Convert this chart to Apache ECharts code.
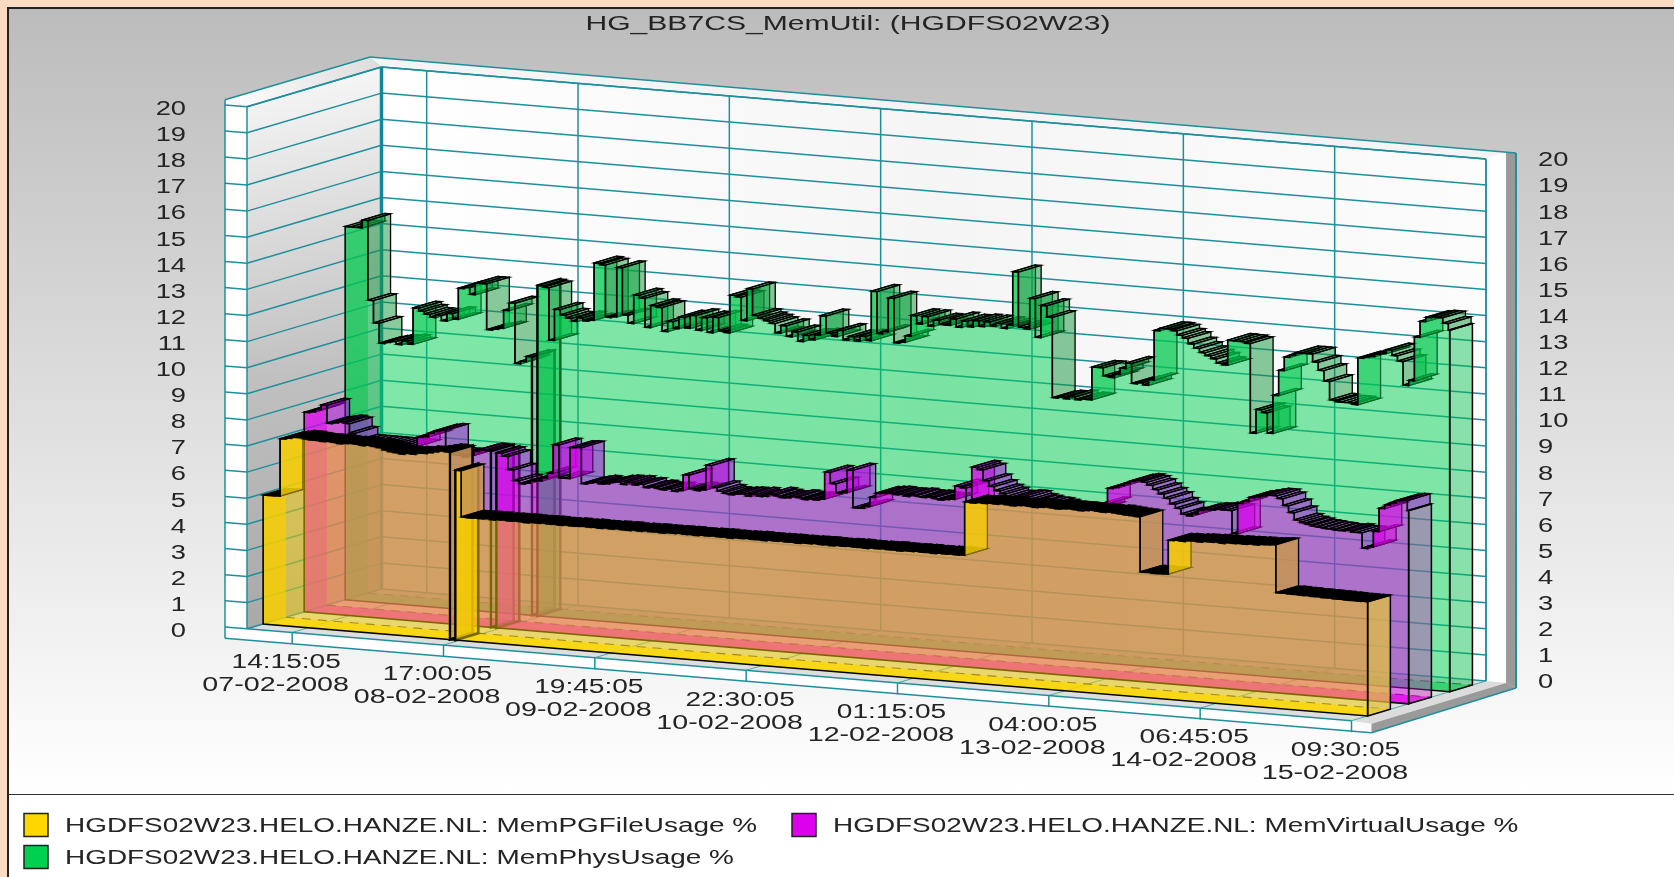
<!DOCTYPE html>
<html>
<head>
<meta charset="utf-8">
<title>HG_BB7CS_MemUtil</title>
<script src="https://cdn.jsdelivr.net/npm/echarts@6/dist/echarts.min.js"></script>
<style>
html, body { margin: 0; padding: 0; background: #fbdcc2; overflow: hidden; }
#panel {
  position: absolute; left: 7px; top: 7px; width: 1667px; height: 785px;
  border-left: 2px solid #222; border-top: 2px solid #222; border-bottom: 2px solid #333;
  background: linear-gradient(#bcbcbc, #ffffff);
}
#legendbox { position: absolute; left: 7px; top: 795px; width: 1667px; height: 82px; border-left: 2px solid #222; background: #fff; }
#main { position: absolute; left: 0; top: 0; width: 1674px; height: 877px; }
</style>
</head>
<body>
<div id="panel"></div>
<div id="legendbox"></div>
<div id="main"></div>
<script>
var chartTitle = 'HG_BB7CS_MemUtil: (HGDFS02W23)';
var legendNames = [
  'HGDFS02W23.HELO.HANZE.NL: MemPGFileUsage %',
  'HGDFS02W23.HELO.HANZE.NL: MemVirtualUsage %',
  'HGDFS02W23.HELO.HANZE.NL: MemPhysUsage %'
];
var yTicks = [0, 1, 2, 3, 4, 5, 6, 7, 8, 9, 10, 11, 12, 13, 14, 15, 16, 17, 18, 19, 20];
var xTickTimes = ['2008-02-07T14:15:05Z', '2008-02-08T17:00:05Z', '2008-02-09T19:45:05Z', '2008-02-10T22:30:05Z',
  '2008-02-12T01:15:05Z', '2008-02-13T04:00:05Z', '2008-02-14T06:45:05Z', '2008-02-15T09:30:05Z'];
var xTickHours = ['14:15:05', '17:00:05', '19:45:05', '22:30:05', '01:15:05', '04:00:05', '06:45:05', '09:30:05'];
var xTickDays = ['07-02-2008', '08-02-2008', '09-02-2008', '10-02-2008', '12-02-2008', '13-02-2008', '14-02-2008', '15-02-2008'];

// one sample per hour from the left end of the axis
var firstSample = '2008-02-07T06:16:00Z';

var pgFileUsage = [
  4.94, 4.94, 4.95, 7.15, 7.2, 7.25, 7.25, 7.22, 7.2, 7.2,
  7.18, 7.2, 7.18, 7.15, 7.18, 7.2, 7.18, 7.15, 7.18, 7.15,
  7.12, 7.05, 7.0, 6.98, 6.95, 7.0, 6.98, 7.05, 7.05, 7.1,
  7.15, 7.2, 7.18, 0, 6.5, 4.73, 4.72, 4.74, 4.73, 4.75,
  4.72, 4.74, 4.75, 4.73, 4.75, 4.74, 4.72, 4.75, 4.74, 4.76,
  4.74, 4.75, 4.73, 4.76, 4.74, 4.75, 4.77, 4.75, 4.76, 4.74,
  4.77, 4.75, 4.78, 4.76, 4.75, 4.78, 4.76, 4.79, 4.77, 4.78,
  4.76, 4.79, 4.78, 4.8, 4.78, 4.79, 4.77, 4.8, 4.79, 4.81,
  4.79, 4.8, 4.78, 4.81, 4.8, 4.82, 4.8, 4.81, 4.79, 4.82,
  4.81, 4.83, 4.81, 4.82, 4.8, 4.83, 4.82, 4.84, 4.82, 4.83,
  4.81, 4.84, 4.83, 4.85, 4.83, 4.84, 4.82, 4.85, 4.84, 4.86,
  4.84, 4.85, 4.83, 4.86, 4.85, 4.87, 4.85, 4.86, 4.84, 4.87,
  4.86, 4.88, 4.86, 4.87, 6.92, 6.9, 6.94, 6.92, 6.95, 6.93,
  6.96, 6.94, 6.92, 6.95, 6.97, 6.95, 6.93, 6.96, 6.98, 6.96,
  6.94, 6.97, 6.99, 6.97, 6.95, 6.98, 7.0, 6.98, 6.96, 6.99,
  6.97, 6.95, 6.93, 6.92, 6.9, 4.79, 4.8, 4.78, 4.79, 4.8,
  6.1, 6.12, 6.1, 6.14, 6.15, 6.13, 6.17, 6.16, 6.18, 6.15,
  6.19, 6.18, 6.2, 6.19, 6.22, 6.2, 6.23, 6.24, 6.26, 4.43,
  4.44, 4.42, 4.43, 4.41, 4.42, 4.4, 4.41, 4.39, 4.4, 4.38,
  4.39, 4.37, 4.38, 4.37, 4.38, 4.37
];
var virtualUsage = [
  7.65, 7.7, 7.8, 7.98, 7.3, 7.35, 7.4, 7.35, 7.0, 6.7,
  6.7, 6.7, 6.7, 6.7, 6.7, 6.7, 6.7, 6.7, 6.7, 6.7,
  7.06, 7.1, 7.25, 7.35, 7.4, 6.57, 6.5, 6.5, 6.45, 6.55,
  6.7, 6.77, 6.75, 0, 6.7, 6.6, 6.1, 5.7, 5.6, 5.65,
  5.75, 5.77, 5.9, 6.1, 7.2, 5.95, 5.95, 7.15, 7.17, 5.8,
  5.85, 5.9, 5.85, 5.88, 5.95, 5.98, 5.9, 6.0, 5.92, 5.96,
  5.85, 5.9, 5.85, 5.82, 5.88, 5.8, 5.85, 6.46, 5.95, 5.9,
  5.95, 6.9, 6.07, 5.95, 5.88, 5.85, 5.9, 5.92, 5.85, 5.95,
  5.88, 5.9, 6.0, 5.95, 5.9, 5.92, 5.98, 5.95, 5.9, 5.95,
  5.92, 5.98, 7.02, 6.6, 6.25, 6.3, 7.17, 5.74, 5.75, 5.85,
  6.2, 6.37, 6.4, 6.42, 6.38, 6.4, 6.35, 6.42, 6.38, 6.36,
  6.4, 6.35, 6.32, 6.36, 6.38, 6.9, 6.85, 6.3, 7.68, 7.6,
  7.2, 7.0, 6.85, 6.75, 6.65, 6.65, 6.7, 6.7, 6.6, 6.55,
  6.5, 6.5, 6.45, 6.4, 6.4, 6.4, 6.4, 6.4, 6.45, 6.45,
  6.5, 6.7, 7.3, 7.36, 7.45, 7.55, 7.65, 7.7, 7.65, 7.55,
  7.4, 7.25, 7.1, 6.9, 6.75, 6.55, 6.5, 6.6, 6.75, 6.8,
  6.8, 6.85, 6.84, 6.84, 5.97, 7.14, 7.25, 7.4, 7.45, 7.5,
  7.55, 7.55, 7.45, 7.2, 6.95, 6.68, 6.6, 6.55, 6.5, 6.48,
  6.45, 6.45, 6.42, 6.42, 6.45, 6.4, 6.4, 5.82, 5.9, 6.5,
  7.4, 7.55, 7.65, 7.75, 7.78, 7.4
];
var physUsage = [
  14.3, 14.3, 14.3, 14.6, 11.55, 10.7, 9.94, 10.0, 10.05, 9.95,
  10.1, 10.0, 11.4, 11.3, 11.2, 11.1, 11.2, 11.0, 11.3, 11.1,
  12.3, 12.35, 12.1, 12.55, 12.55, 10.8, 10.85, 10.9, 11.6, 11.9,
  9.6, 9.7, 9.9, 0, 12.65, 12.6, 10.6, 11.8, 11.6, 11.5,
  11.4, 11.55, 11.45, 11.5, 13.7, 13.65, 11.66, 11.7, 13.6, 11.8,
  11.5, 12.6, 12.5, 11.4, 12.25, 12.2, 11.3, 11.7, 11.45, 11.9,
  11.5, 12.0, 11.45, 11.95, 11.4, 12.0, 11.5, 11.45, 12.9, 12.85,
  11.97, 13.2, 12.2, 12.1, 12.03, 11.95, 11.6, 11.9, 11.5, 11.7,
  11.35, 11.6, 11.45, 11.65, 12.4, 11.75, 11.65, 11.9, 11.55, 11.7,
  11.55, 11.75, 11.6, 13.5, 11.9, 12.0, 13.3, 11.6, 11.65, 11.9,
  12.7, 12.4, 12.7, 12.35, 12.6, 12.45, 12.44, 12.7, 12.4, 12.65,
  12.45, 12.7, 12.5, 12.7, 12.55, 12.67, 12.5, 12.65, 14.7, 12.6,
  12.55, 13.74, 12.26, 13.5, 13.07, 10.0, 10.05, 10.0, 10.1, 10.0,
  10.05, 10.04, 11.3, 11.3, 11.0, 10.96, 11.1, 11.35, 11.56, 10.8,
  10.85, 10.78, 11.0, 12.9, 13.0, 13.0, 12.95, 12.8, 12.7, 12.5,
  12.35, 12.2, 12.1, 12.0, 11.85, 11.8, 12.76, 12.75, 12.75, 12.7,
  9.28, 10.2, 10.1, 9.33, 10.8, 11.77, 12.3, 12.4, 12.5, 12.5,
  12.5, 12.2, 11.9, 11.5, 10.8, 10.75, 10.75, 10.75, 10.7, 12.5,
  12.55, 12.6, 12.7, 12.75, 12.9, 12.7, 12.5, 11.6, 11.8, 13.48,
  14.1, 14.27, 14.3, 14.3, 14.1, 13.85
];

var fontName = '"Liberation Sans", Arial, sans-serif';
var textColor = '#242424';
var gridColor = '#1f8f9b';
var plotLeft = 247, plotTop = 106.7, plotWidth = 1104.5, plotHeight = 522;
var slope = 0.0833, depthX = 134.5, depthY = 39.7;

var startMs = Date.parse(firstSample);
var tickMs = xTickTimes.map(function (s) { return Date.parse(s); });
var tMin = startMs, tMax = tickMs[tickMs.length - 1];

function sampleTime(i) {
  return Math.min(startMs + i * 3600000, tMax);
}

// front plane of the axes is sheared and pushed backwards by depth d (0..1)
function project(api, t, v, d) {
  var p = api.coord([t, v]);
  return [p[0] + d * depthX, p[1] + (p[0] - plotLeft) * slope - d * depthY];
}
function poly(points, fill, stroke, lineWidth) {
  return { type: 'polygon', silent: true, shape: { points: points },
    style: { fill: fill, stroke: stroke || 'none', lineWidth: lineWidth || 0 } };
}
function line(a, b, width, color, dash) {
  return { type: 'line', silent: true, shape: { x1: a[0], y1: a[1], x2: b[0], y2: b[1] },
    style: { stroke: color || gridColor, lineWidth: width || 1.5, lineDash: dash || null, fill: 'none' } };
}
function label(x, y, text, align, scaleX) {
  return { type: 'text', silent: true, x: x, y: y, scaleX: scaleX, scaleY: 1,
    style: { text: text, fontFamily: fontName, fontSize: 19.5, fill: textColor, align: align, verticalAlign: 'middle' } };
}
function shift(p, dx, dy) { return [p[0] + dx, p[1] + dy]; }

function renderWalls(params, api) {
  var kids = [];
  var fb = project(api, tMin, 0, 0), ft = project(api, tMin, 20, 0);
  var bb = project(api, tMin, 0, 1), bt = project(api, tMin, 20, 1);
  var rbb = project(api, tMax, 0, 1), rbt = project(api, tMax, 20, 1);
  var rfb = project(api, tMax, 0, 0);
  var outerL = shift(ft, -22, -7), outerLb = shift(fb, -22, 9.5);
  var outerB = shift(bt, -11.5, -10), outerR = shift(rbt, 30, -6);
  var midR = shift(rbt, 20, -7);

  kids.push(poly([outerL, ft, fb, outerLb], '#ffffff'));
  kids.push(poly([ft, bt, bb, fb], { type: 'linear', x: 0, y: 0, x2: 0.55, y2: 1,
    colorStops: [{ offset: 0, color: '#f9f9f9' }, { offset: 0.55, color: '#c0c0c0' }, { offset: 1, color: '#a8a8a8' }] }));
  kids.push(poly([outerL, outerB, bt, ft], { type: 'linear', x: 0, y: 0, x2: 1, y2: 0,
    colorStops: [{ offset: 0, color: '#ffffff' }, { offset: 1, color: '#dcdcdc' }] }));
  kids.push(poly([bt, rbt, rbb, bb], { type: 'linear', x: 0, y: 0, x2: 1, y2: 0,
    colorStops: [{ offset: 0, color: '#ffffff' }, { offset: 0.5, color: '#f5f5f5' }, { offset: 1, color: '#fcfcfc' }] }));
  kids.push(poly([outerB, outerR, rbt, bt], '#f4f4f4'));
  kids.push(poly([rbt, midR, shift(rbb, 20, 2), rbb], '#ffffff'));
  kids.push(poly([midR, outerR, shift(rbb, 30, 7), shift(rbb, 20, 2)], '#9a9a9a'));
  kids.push(poly([fb, rfb, rbb, bb], '#dedede'));
  kids.push(poly([outerLb, shift(rfb, 20, 12), rfb, fb], '#ffffff'));
  kids.push(poly([rfb, rbb, shift(rbb, 20, 2), shift(rfb, 20, 3)], '#dcdcdc'));
  kids.push(poly([shift(rfb, 20, 3), shift(rbb, 20, 2), shift(rbb, 30, 7), shift(rfb, 20, 12)], '#9a9a9a'));

  yTicks.forEach(function (v) {
    var a = project(api, tMin, v, 0), b = project(api, tMin, v, 1), c = project(api, tMax, v, 1);
    kids.push(line(shift(a, -22, -1.8), a));
    kids.push(line(a, b));
    kids.push(line(b, c));
    kids.push(label(186, a[1] + 3, String(v), 'right', 1.4));
    kids.push(label(1538, c[1] + 2, String(v), 'left', 1.4));
  });
  tickMs.forEach(function (t, i) {
    var f = project(api, t, 0, 0), b0 = project(api, t, 0, 1), b1 = project(api, t, 20, 1);
    kids.push(line(f, shift(f, 0, 11.5)));
    kids.push(line(f, b0, 1, '#4aa9a0'));
    kids.push(line(b0, b1));
    kids.push(label(f[0] - 6, f[1] + 30, xTickHours[i], 'center', 1.44));
    kids.push(label(f[0] - 16.5, f[1] + 53, xTickDays[i], 'center', 1.47));
  });
  kids.push(line(bb, bt, 3.5, '#11879a'));
  kids.push(line(outerL, outerLb));
  kids.push(line(ft, fb));
  kids.push(line(outerL, outerB));
  kids.push(line(outerB, outerR));
  kids.push(line(ft, bt));
  kids.push(line(bt, rbt));
  kids.push(line(fb, rfb));
  kids.push(line(outerLb, shift(rfb, 20, 12)));
  kids.push(line(shift(rfb, 20, 12), shift(rbb, 30, 7), 1.5));
  kids.push(line(outerR, shift(rbb, 30, 7), 2));
  kids.push(line(rbt, rbb));
  return { type: 'group', children: kids };
}

// the top of a ribbon: one flat quad per sample and a riser where the value changes
function ribRenderer(values, s) {
  return function (params, api) {
    var i = params.dataIndex, kids = [];
    var t0 = sampleTime(i), t1 = sampleTime(i + 1), v = values[i];
    if (i === 0) {
      var last = values.length - 1;
      kids.push(poly([project(api, tMin, 0, s.d0), project(api, tMax, 0, s.d0), project(api, tMax, 0, s.d1), project(api, tMin, 0, s.d1)], s.floor));
      kids.push(line(project(api, tMin, 0, s.d1), project(api, tMax, 0, s.d1), 1.1, 'rgba(30,30,30,.75)', [9, 7]));
      kids.push(poly([project(api, tMin, 0, s.d0), project(api, tMin, values[0], s.d0), project(api, tMin, values[0], s.d1), project(api, tMin, 0, s.d1)], s.rise));
      kids.push(poly([project(api, tMax, 0, s.d0), project(api, tMax, values[last], s.d0), project(api, tMax, values[last], s.d1), project(api, tMax, 0, s.d1)], s.endCap, '#000', 1.5));
    }
    if (i > 0 && values[i - 1] !== v) {
      var u = values[i - 1], big = Math.abs(u - v) > 0.25;
      var fill = !big && s.band ? s.band : (v > u ? s.rise : s.fall);
      // the drop to zero shows as one heavy black stroke in the picture
      var width = (u === 0 || v === 0) ? 2.6 : s.lineWidth;
      kids.push(poly([project(api, t0, u, s.d0), project(api, t0, v, s.d0), project(api, t0, v, s.d1), project(api, t0, u, s.d1)], fill, '#000', width));
    }
    kids.push(poly([project(api, t0, v, s.d0), project(api, t1, v, s.d0), project(api, t1, v, s.d1), project(api, t0, v, s.d1)], s.band || s.fall, '#000', s.lineWidth));
    return { type: 'group', children: kids };
  };
}
// translucent front face, drawn once over all the quads of its ribbon
function faceRenderer(values, s) {
  return function (params, api) {
    if (params.dataIndex !== 0) return null;
    var pts = [project(api, tMin, 0, s.d0)];
    values.forEach(function (v, i) {
      pts.push(project(api, sampleTime(i), v, s.d0));
      pts.push(project(api, sampleTime(i + 1), v, s.d0));
    });
    pts.push(project(api, tMax, 0, s.d0));
    return { type: 'group', children: [poly(pts, s.face, '#000', 1.6)] };
  };
}

function ribbon(name, values, s) {
  var data = values.map(function (v, i) { return [sampleTime(i), v]; });
  var common = { type: 'custom', name: name, silent: true, clip: false, animation: false, progressive: 0,
    encode: { x: 0, y: 1 }, data: data };
  return [
    Object.assign({}, common, { renderItem: ribRenderer(values, s) }),
    Object.assign({}, common, { renderItem: faceRenderer(values, s) })
  ];
}

var series = [{
  type: 'custom', name: 'walls', silent: true, clip: false, animation: false, progressive: 0,
  encode: { x: 0, y: 1 }, data: [[tMin, 0]], renderItem: renderWalls
}];
series = series.concat(ribbon(legendNames[2], physUsage, {
  d0: 0.73, d1: 0.899, lineWidth: 1.3, face: 'rgba(0,208,80,.5)', fall: 'rgba(20,150,60,.5)', rise: 'rgba(0,185,70,.5)',
  floor: 'rgba(0,208,80,.5)', endCap: 'rgba(0,190,70,.45)'
}));
series = series.concat(ribbon(legendNames[1], virtualUsage, {
  d0: 0.425, d1: 0.594, lineWidth: 1.3, face: 'rgba(221,0,238,.5)', fall: 'rgba(176,0,226,.5)', rise: 'rgba(221,0,238,.5)',
  floor: 'rgba(240,0,240,.75)', endCap: 'rgba(200,40,190,.4)'
}));
series = series.concat(ribbon(legendNames[0], pgFileUsage, {
  d0: 0.12, d1: 0.289, lineWidth: 1.3, face: 'rgba(245,205,0,.5)', fall: 'rgba(200,150,80,.85)', rise: 'rgba(250,205,0,.75)',
  floor: 'rgba(255,225,0,.8)', endCap: 'rgba(225,195,60,.75)', band: '#000'
}));

function legendItem(boxX, y, color, text) {
  return [
    { type: 'rect', shape: { x: boxX, y: y - 11.5, width: 24, height: 23 }, style: { fill: color, stroke: '#222', lineWidth: 1.5 }, silent: true },
    { type: 'text', x: boxX + 41, y: y + 2, scaleX: 1.432, silent: true,
      style: { text: text, fontFamily: fontName, fontSize: 19.5, fill: textColor, align: 'left', verticalAlign: 'middle' } }
  ];
}

var option = {
  animation: false,
  backgroundColor: 'transparent',
  grid: { left: plotLeft, top: plotTop, width: plotWidth, height: plotHeight, containLabel: false },
  xAxis: { type: 'time', min: tMin, max: tMax, show: false },
  yAxis: { type: 'value', min: 0, max: 20, interval: 1, show: false },
  graphic: [
    { type: 'text', x: 848, y: 24, scaleX: 1.505, silent: true,
      style: { text: chartTitle, fontFamily: fontName, fontSize: 20, fill: textColor, align: 'center', verticalAlign: 'middle' } }
  ].concat(legendItem(24, 825, '#ffd700', legendNames[0]), legendItem(792, 825, '#dd00ee', legendNames[1]), legendItem(24, 857, '#00d050', legendNames[2])),
  series: series
};

var chart = echarts.init(document.getElementById('main'));
chart.setOption(option);
</script>
</body>
</html>
